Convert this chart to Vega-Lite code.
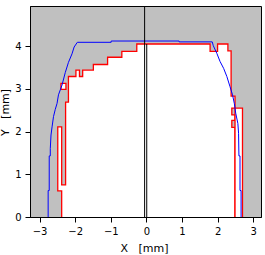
{
  "$schema": "https://vega.github.io/schema/vega-lite/v6.json",
  "width": 231,
  "height": 211,
  "autosize": "none",
  "padding": {"left": 30, "top": 6, "right": 4, "bottom": 38},
  "background": "white",
  "config": {
    "view": {"fill": "#c0c0c0", "stroke": "black", "strokeWidth": 1},
    "axis": {
      "labelFont": "DejaVu Sans", "labelFontSize": 10, "labelColor": "black",
      "titleFont": "DejaVu Sans", "titleFontSize": 11, "titleFontWeight": "normal", "titleColor": "black",
      "domainColor": "black", "tickColor": "black", "tickSize": 5, "grid": false, "zindex": 1
    }
  },
  "datasets": {
    "poly": [
      {"p": "A", "i": 1, "x": -2.38, "y": 0},
      {"p": "A", "i": 2, "x": -2.38, "y": 0.61},
      {"p": "A", "i": 3, "x": -2.49, "y": 0.61},
      {"p": "A", "i": 4, "x": -2.49, "y": 2.11},
      {"p": "A", "i": 5, "x": -2.38, "y": 2.11},
      {"p": "A", "i": 6, "x": -2.38, "y": 0.75},
      {"p": "A", "i": 7, "x": -2.27, "y": 0.75},
      {"p": "A", "i": 8, "x": -2.27, "y": 2.69},
      {"p": "A", "i": 9, "x": -2.19, "y": 2.69},
      {"p": "A", "i": 10, "x": -2.19, "y": 3.29},
      {"p": "A", "i": 11, "x": -1.98, "y": 3.29},
      {"p": "A", "i": 12, "x": -1.98, "y": 3.44},
      {"p": "A", "i": 13, "x": -1.88, "y": 3.44},
      {"p": "A", "i": 14, "x": -1.88, "y": 3.29},
      {"p": "A", "i": 15, "x": -1.79, "y": 3.29},
      {"p": "A", "i": 16, "x": -1.79, "y": 3.44},
      {"p": "A", "i": 17, "x": -1.49, "y": 3.44},
      {"p": "A", "i": 18, "x": -1.49, "y": 3.57},
      {"p": "A", "i": 19, "x": -1.09, "y": 3.57},
      {"p": "A", "i": 20, "x": -1.09, "y": 3.74},
      {"p": "A", "i": 21, "x": -0.69, "y": 3.74},
      {"p": "A", "i": 22, "x": -0.69, "y": 3.88},
      {"p": "A", "i": 23, "x": -0.27, "y": 3.88},
      {"p": "A", "i": 24, "x": -0.27, "y": 4.05},
      {"p": "A", "i": 25, "x": 1.79, "y": 4.05},
      {"p": "A", "i": 26, "x": 1.79, "y": 3.88},
      {"p": "A", "i": 27, "x": 2.0, "y": 3.88},
      {"p": "A", "i": 28, "x": 2.0, "y": 4.05},
      {"p": "A", "i": 29, "x": 2.29, "y": 4.05},
      {"p": "A", "i": 30, "x": 2.29, "y": 3.89},
      {"p": "A", "i": 31, "x": 2.38, "y": 3.89},
      {"p": "A", "i": 32, "x": 2.38, "y": 2.83},
      {"p": "A", "i": 33, "x": 2.49, "y": 2.83},
      {"p": "A", "i": 34, "x": 2.49, "y": 2.55},
      {"p": "A", "i": 35, "x": 2.4, "y": 2.55},
      {"p": "A", "i": 36, "x": 2.4, "y": 2.39},
      {"p": "A", "i": 37, "x": 2.49, "y": 2.39},
      {"p": "A", "i": 38, "x": 2.49, "y": 2.26},
      {"p": "A", "i": 39, "x": 2.4, "y": 2.26},
      {"p": "A", "i": 40, "x": 2.4, "y": 2.1},
      {"p": "A", "i": 41, "x": 2.49, "y": 2.1},
      {"p": "A", "i": 42, "x": 2.49, "y": 0},
      {"p": "B", "i": 1, "x": 2.49, "y": 0},
      {"p": "B", "i": 2, "x": 2.49, "y": 2.55},
      {"p": "B", "i": 3, "x": 2.7, "y": 2.55},
      {"p": "B", "i": 4, "x": 2.7, "y": 0},
      {"p": "C", "i": 1, "x": -2.4, "y": 2.99},
      {"p": "C", "i": 2, "x": -2.4, "y": 3.13},
      {"p": "C", "i": 3, "x": -2.26, "y": 3.13},
      {"p": "C", "i": 4, "x": -2.26, "y": 2.99},
      {"p": "C", "i": 5, "x": -2.4, "y": 2.99}
    ],
    "blue": [
      {"i": 1, "x": -2.76, "y": 0},
      {"i": 2, "x": -2.76, "y": 0.62},
      {"i": 3, "x": -2.73, "y": 0.62},
      {"i": 4, "x": -2.73, "y": 1.43},
      {"i": 5, "x": -2.7, "y": 1.43},
      {"i": 6, "x": -2.7, "y": 1.6},
      {"i": 7, "x": -2.68, "y": 1.92},
      {"i": 8, "x": -2.65, "y": 2.11},
      {"i": 9, "x": -2.61, "y": 2.35},
      {"i": 10, "x": -2.56, "y": 2.52},
      {"i": 11, "x": -2.51, "y": 2.66},
      {"i": 12, "x": -2.47, "y": 2.86},
      {"i": 13, "x": -2.37, "y": 3.09},
      {"i": 14, "x": -2.28, "y": 3.38},
      {"i": 15, "x": -2.19, "y": 3.62},
      {"i": 16, "x": -2.09, "y": 3.82},
      {"i": 17, "x": -2.03, "y": 3.98},
      {"i": 18, "x": -1.94, "y": 4.09},
      {"i": 19, "x": -0.99, "y": 4.09},
      {"i": 20, "x": -0.99, "y": 4.12},
      {"i": 21, "x": 0.92, "y": 4.12},
      {"i": 22, "x": 0.92, "y": 4.1},
      {"i": 23, "x": 1.85, "y": 4.1},
      {"i": 24, "x": 1.88, "y": 4.01},
      {"i": 25, "x": 1.98, "y": 3.83},
      {"i": 26, "x": 2.07, "y": 3.64},
      {"i": 27, "x": 2.17, "y": 3.48},
      {"i": 28, "x": 2.26, "y": 3.29},
      {"i": 29, "x": 2.35, "y": 3.05},
      {"i": 30, "x": 2.42, "y": 2.86},
      {"i": 31, "x": 2.47, "y": 2.66},
      {"i": 32, "x": 2.51, "y": 2.43},
      {"i": 33, "x": 2.57, "y": 2.19},
      {"i": 34, "x": 2.59, "y": 1.96},
      {"i": 35, "x": 2.6, "y": 1.43},
      {"i": 36, "x": 2.63, "y": 1.43},
      {"i": 37, "x": 2.63, "y": 0.62},
      {"i": 38, "x": 2.66, "y": 0.62},
      {"i": 39, "x": 2.66, "y": 0}
    ],
    "center": [
      {"i": 1, "x": 0.01, "y": 0},
      {"i": 2, "x": 0.01, "y": 4.05}
    ],
    "axisline": [
      {"x": -0.05}
    ]
  },
  "encoding": {
    "x": {"field": "x", "type": "quantitative", "scale": {"domain": [-3.27, 3.22], "nice": false, "zero": false},
          "axis": {"values": [-3, -2, -1, 0, 1, 2, 3], "title": "X\u00a0\u00a0\u00a0[mm]", "labelPadding": 4, "titleX": 114, "titleY": 31, "titleBaseline": "middle"}},
    "y": {"field": "y", "type": "quantitative", "scale": {"domain": [0, 4.94], "nice": false},
          "axis": {"values": [0, 1, 2, 3, 4], "title": "Y\u00a0\u00a0\u00a0[mm]", "labelPadding": 4, "titleX": -25, "titleY": 106, "titleBaseline": "middle", "titleAngle": -90, "titleAlign": "center"}}
  },
  "layer": [
    {
      "data": {"name": "poly"},
      "mark": {"type": "line", "fill": "white", "stroke": "#ff0000", "strokeWidth": 1.3, "strokeJoin": "miter", "interpolate": "linear"},
      "encoding": {"detail": {"field": "p"}, "order": {"field": "i", "type": "quantitative"}}
    },
    {
      "data": {"name": "center"},
      "mark": {"type": "line", "stroke": "black", "strokeWidth": 1},
      "encoding": {"order": {"field": "i", "type": "quantitative"}}
    },
    {
      "data": {"name": "blue"},
      "mark": {"type": "line", "stroke": "#0000ff", "strokeWidth": 1},
      "encoding": {"order": {"field": "i", "type": "quantitative"}}
    },
    {
      "data": {"name": "axisline"},
      "mark": {"type": "rule", "stroke": "black", "strokeWidth": 1},
      "encoding": {"x": {"field": "x", "type": "quantitative"}, "y": null}
    }
  ]
}
